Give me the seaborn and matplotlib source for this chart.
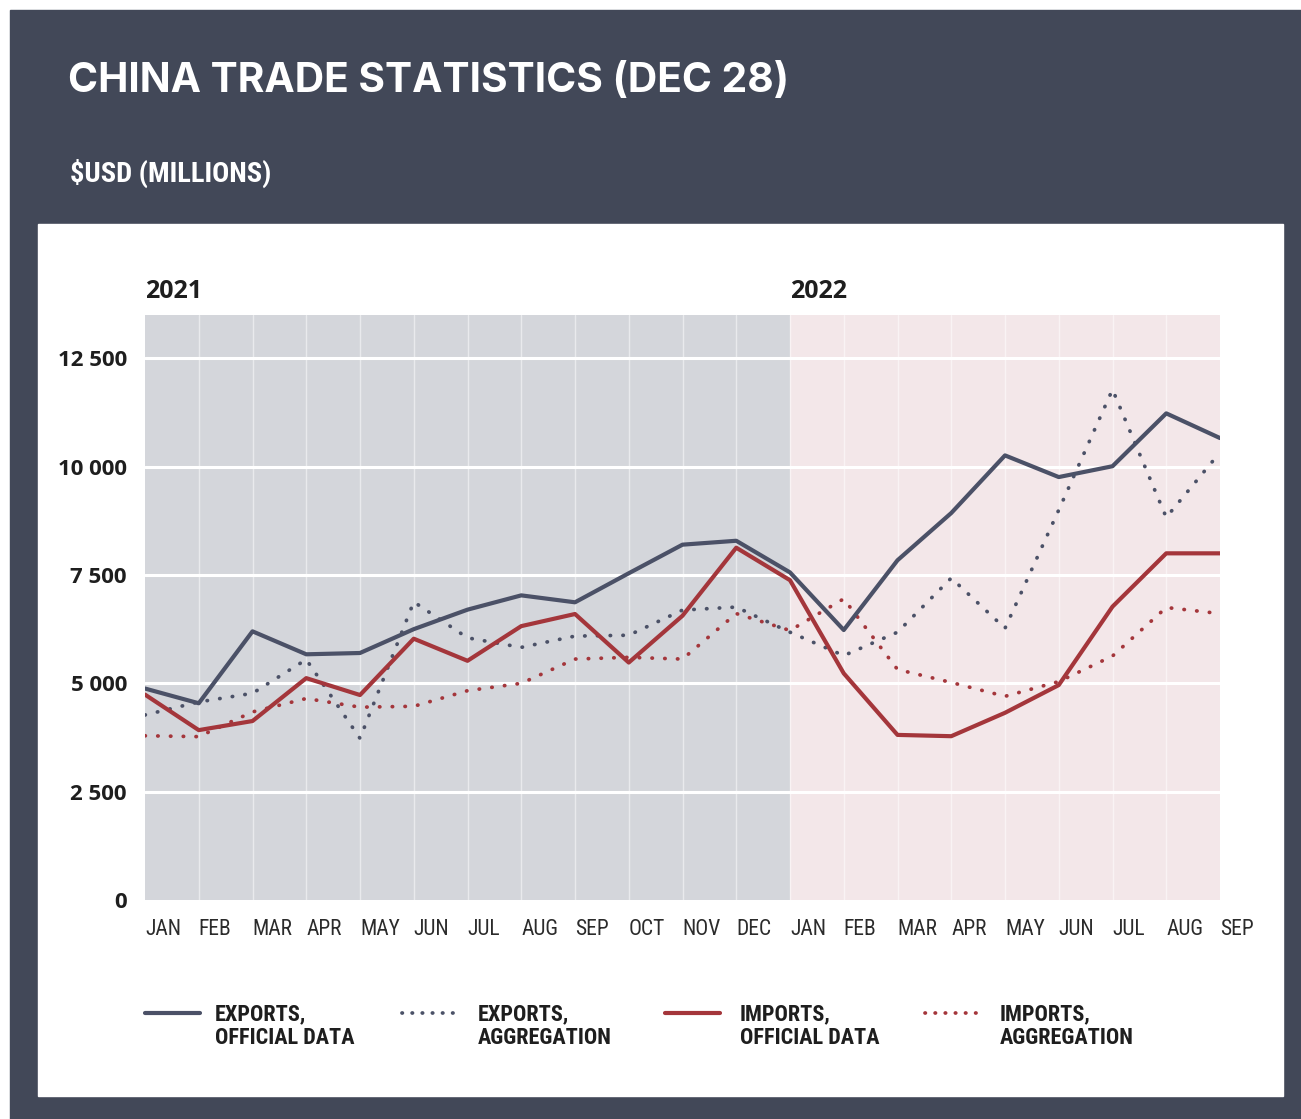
import numpy as np
import pandas as pd
import matplotlib
matplotlib.use("Agg")
import matplotlib.pyplot as plt
from matplotlib.patches import Rectangle
from matplotlib.lines import Line2D
import seaborn as sns

sns.set_theme(style="white")
plt.rcParams['font.family'] = ['Open Sans', 'DejaVu Sans']

# ==========================
# DADOS
# ==========================
meses = ["JAN", "FEB", "MAR", "APR", "MAY", "JUN", "JUL", "AUG", "SEP", "OCT", "NOV", "DEC",
         "JAN", "FEB", "MAR", "APR", "MAY", "JUN", "JUL", "AUG", "SEP"]

exports_oficial = [4880, 4540, 6200, 5670, 5700, 6250, 6700, 7030, 6870, 7540, 8200, 8290,
                   7560, 6230, 7840, 8930, 10260, 9760, 10010, 11230, 10660]
exports_agregado = [4270, 4570, 4770, 5550, 3730, 6880, 6050, 5830, 6090, 6110, 6690, 6760,
                    6180, 5640, 6180, 7430, 6270, 9000, 11780, 8830, 10330]
imports_oficial = [4740, 3920, 4130, 5120, 4730, 6030, 5520, 6320, 6600, 5480, 6560, 8130,
                   7380, 5230, 3810, 3780, 4320, 4960, 6770, 8000, 8000]
imports_agregado = [3790, 3770, 4340, 4650, 4450, 4470, 4830, 5000, 5560, 5600, 5560, 6610,
                    6220, 6950, 5320, 5020, 4700, 5040, 5630, 6750, 6610]

anos = ["2021", "2022"]

df = pd.DataFrame({
    "idx": np.arange(len(meses)),
    "exp_of": exports_oficial,
    "exp_ag": exports_agregado,
    "imp_of": imports_oficial,
    "imp_ag": imports_agregado,
})

# ==========================
# CORES / ESTILO
# ==========================
cor_fundo = "#424858"
cor_exp = "#4b5167"
cor_imp = "#a4363b"
cor_2021 = "#d4d6db"
cor_2022 = "#f3e7e9"
condensada = ['Roboto Condensed', 'Open Sans', 'DejaVu Sans']
pontilhado = (0, (0.1, 3.3))

W, H = 1301, 1119
fig = plt.figure(figsize=(W / 100, H / 100), dpi=100)
fig.patch.set_facecolor("white")

def px(x, y):
    return x / W, 1 - y / H

# fundo escuro + painel branco
fig.add_artist(Rectangle(px(10, 1119), (1301 - 10) / W, (1119 - 10) / H,
                         transform=fig.transFigure, color=cor_fundo, zorder=0))
fig.add_artist(Rectangle(px(38, 1096), (1283 - 38) / W, (1096 - 224) / H,
                         transform=fig.transFigure, color="white", zorder=0.5))

fig.text(*px(68, 92), "CHINA TRADE STATISTICS (DEC 28)", color="white",
         fontsize=29.3, fontweight="bold", family=['Inter', 'DejaVu Sans'], va="baseline")
fig.text(*px(70, 182), "$USD (MILLIONS)", color="white",
         fontsize=20.5, fontweight="bold", family=condensada, va="baseline")

ax = fig.add_axes([145 / W, 1 - 900 / H, (1220 - 145) / W, (900 - 315) / H])
ax.set_zorder(2)
ax.axvspan(0, 12, color=cor_2021, zorder=0, lw=0)
ax.axvspan(12, 20, color=cor_2022, zorder=0, lw=0)

for v in range(1, 20):
    ax.axvline(v, color="white", lw=1, alpha=0.5, zorder=1)
for v in np.arange(2500, 12501, 2500):
    ax.axhline(v, color="white", lw=2.2, zorder=1)

# ==========================
# LINHAS
# ==========================
sns.lineplot(data=df, x="idx", y="imp_ag", ax=ax, color=cor_imp, lw=2.7,
             linestyle=pontilhado, dash_capstyle="round", zorder=3)
sns.lineplot(data=df, x="idx", y="exp_ag", ax=ax, color=cor_exp, lw=2.7,
             linestyle=pontilhado, dash_capstyle="round", zorder=3)
sns.lineplot(data=df, x="idx", y="imp_of", ax=ax, color=cor_imp, lw=3, zorder=4)
sns.lineplot(data=df, x="idx", y="exp_of", ax=ax, color=cor_exp, lw=3, zorder=5)

ax.set_xlim(0, 20)
ax.set_ylim(0, 13500)
ax.set_xlabel("")
ax.set_ylabel("")
for s in ax.spines.values():
    s.set_visible(False)

ax.set_xticks(df["idx"])
ax.set_xticklabels(meses, ha="left", fontsize=15.5, color="#2b2b2b", family=condensada)
ax.set_yticks(np.arange(0, 12501, 2500))
ax.set_yticklabels([f"{v:,}".replace(",", " ") for v in np.arange(0, 12501, 2500)],
                   fontsize=16, fontweight="bold", color="#1e1e1e")
ax.tick_params(axis="x", length=0, pad=14)
ax.tick_params(axis="y", length=0, pad=13)

for pos, ano in zip([0, 12], anos):
    ax.text(pos, 1.018, ano, transform=ax.get_xaxis_transform(), ha="left", va="bottom",
            fontsize=18, fontweight="bold", color="#1e1e1e")

# ==========================
# LEGENDA
# ==========================
legenda = [
    (145, 215, cor_exp, "-", "EXPORTS,\nOFFICIAL DATA"),
    (402, 478, cor_exp, pontilhado, "EXPORTS,\nAGGREGATION"),
    (665, 740, cor_imp, "-", "IMPORTS,\nOFFICIAL DATA"),
    (925, 1000, cor_imp, pontilhado, "IMPORTS,\nAGGREGATION"),
]
for x0, xt, cor, estilo, rotulo in legenda:
    (xa, ya), (xb, _) = px(x0, 1013), px(x0 + 55, 1013)
    fig.add_artist(Line2D([xa, xb], [ya, ya], transform=fig.transFigure, color=cor,
                          lw=3 if estilo == "-" else 2.7,
                          linestyle=estilo if estilo == "-" else (0, (0.1, 2.6)),
                          dash_capstyle="round", zorder=3))
    fig.text(*px(xt, 1003), rotulo, fontsize=16, fontweight="bold",
             family=condensada, color="#1e1e1e",
             va="top", linespacing=1.1, zorder=3)

fig.savefig("out.png", dpi=100, facecolor=fig.get_facecolor())
